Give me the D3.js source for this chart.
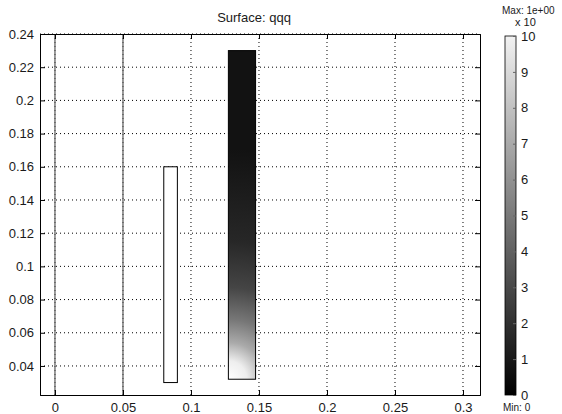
<!DOCTYPE html>
<html>
<head>
<meta charset="utf-8">
<script src="https://cdn.jsdelivr.net/npm/d3@7"></script>
<style>
  body { margin: 0; background: #fff; }
  text { font-family: "Liberation Sans", Arial, sans-serif; fill: #1a1a1a; }
</style>
</head>
<body>
<svg width="562" height="414"></svg>
<script>
// axis ticks
var xTicks = [0, 0.05, 0.1, 0.15, 0.2, 0.25, 0.3];
var yTicks = [0.04, 0.06, 0.08, 0.1, 0.12, 0.14, 0.16, 0.18, 0.2, 0.22, 0.24];
var cbTicks = [0, 1, 2, 3, 4, 5, 6, 7, 8, 9, 10];

// geometry: boundary lines and the two subdomains
var boundaries = [0, 0.05];
var domainX0 = [0.08, 0.1275];
var domainX1 = [0.09, 0.1475];
var domainY0 = [0.03, 0.032];
var domainY1 = [0.16, 0.23];

var svg = d3.select("svg");
var margin = { top: 34, right: 82, bottom: 19, left: 40 };
var width = 562 - margin.left - margin.right,
    height = 414 - margin.top - margin.bottom;

var x = d3.scaleLinear().domain([-0.011, 0.3125]).range([0, width]);
var y = d3.scaleLinear().domain([0.0225, 0.24]).range([height, 0]);

var defs = svg.append("defs");

var g = svg.append("g")
    .attr("transform", "translate(" + margin.left + "," + margin.top + ")");

// title
svg.append("text")
    .attr("x", 254).attr("y", 22)
    .attr("text-anchor", "middle")
    .style("font-size", "13px")
    .text("Surface: qqq");

// grid
g.selectAll(".vgrid").data(xTicks).enter().append("line")
    .attr("x1", function (d) { return x(d); }).attr("x2", function (d) { return x(d); })
    .attr("y1", 0).attr("y2", height)
    .attr("stroke", "#000").attr("stroke-width", 1)
    .attr("stroke-dasharray", "1,3");

g.selectAll(".hgrid").data(yTicks).enter().append("line")
    .attr("y1", function (d) { return y(d); }).attr("y2", function (d) { return y(d); })
    .attr("x1", 0).attr("x2", width)
    .attr("stroke", "#000").attr("stroke-width", 1)
    .attr("stroke-dasharray", "1,3");

// boundaries
g.selectAll(".bnd").data(boundaries).enter().append("line")
    .attr("x1", function (d) { return x(d); }).attr("x2", function (d) { return x(d); })
    .attr("y1", 0).attr("y2", height)
    .attr("stroke", "#666").attr("stroke-width", 1.3);

// gradient for the heated domain
var i = 1;
var grad = defs.append("radialGradient")
    .attr("id", "surf")
    .attr("gradientUnits", "userSpaceOnUse")
    .attr("cx", x(domainX0[i])).attr("cy", y(domainY0[i]))
    .attr("fx", x(domainX0[i])).attr("fy", y(domainY0[i]))
    .attr("r", 230);
[[0, "#ffffff"], [0.08, "#eeeeee"], [0.16, "#aaaaaa"], [0.26, "#777777"],
 [0.4, "#454545"], [0.6, "#272727"], [1, "#121212"]].forEach(function (s) {
    grad.append("stop").attr("offset", s[0]).attr("stop-color", s[1]);
});

g.selectAll(".dom").data(domainX0).enter().append("rect")
    .attr("x", function (d, k) { return x(domainX0[k]); })
    .attr("width", function (d, k) { return x(domainX1[k]) - x(domainX0[k]); })
    .attr("y", function (d, k) { return y(domainY1[k]); })
    .attr("height", function (d, k) { return y(domainY0[k]) - y(domainY1[k]); })
    .attr("fill", function (d, k) { return k === 1 ? "url(#surf)" : "#fff"; })
    .attr("stroke", "#000").attr("stroke-width", 1);

// axes
var fmt = function (d) { return String(+d.toFixed(2)); };
var xAxis = d3.axisBottom(x).tickValues(xTicks).tickSize(-5).tickPadding(8).tickFormat(fmt);
var yAxis = d3.axisLeft(y).tickValues(yTicks).tickSize(-5).tickPadding(6).tickFormat(fmt);

g.append("g").attr("transform", "translate(0," + height + ")").call(xAxis);
g.append("g").call(yAxis);
g.append("g").call(d3.axisTop(x).tickValues(xTicks).tickSize(-5).tickFormat(""));
g.append("g").attr("transform", "translate(" + width + ",0)")
    .call(d3.axisRight(y).tickValues(yTicks).tickSize(-5).tickFormat(""));

g.selectAll(".domain").attr("stroke", "#000");
g.selectAll(".tick line").attr("stroke", "#000");
g.selectAll(".tick text").style("font-size", "13px").attr("fill", "#1a1a1a")
    .style("font-family", "Liberation Sans, Arial, sans-serif");

// colorbar
var cbX = 505, cbW = 11;
var cy = d3.scaleLinear().domain([0, 10]).range([395, 36]);

var cg = defs.append("linearGradient").attr("id", "cb")
    .attr("x1", 0).attr("y1", 1).attr("x2", 0).attr("y2", 0);
cg.append("stop").attr("offset", 0).attr("stop-color", "#000");
cg.append("stop").attr("offset", 1).attr("stop-color", "#f2f2f2");

svg.append("rect")
    .attr("x", cbX).attr("y", cy(10))
    .attr("width", cbW).attr("height", cy(0) - cy(10))
    .attr("fill", "url(#cb)").attr("stroke", "#000").attr("stroke-width", 0.8);

var cbAxis = d3.axisRight(cy).tickValues(cbTicks).tickSize(-3).tickPadding(5);
var gcb = svg.append("g").attr("transform", "translate(" + (cbX + cbW) + ",0)").call(cbAxis);
gcb.select(".domain").remove();
gcb.selectAll(".tick line").attr("stroke", "#666");
gcb.selectAll(".tick text").style("font-size", "13px").attr("fill", "#1a1a1a")
    .style("font-family", "Liberation Sans, Arial, sans-serif");

svg.append("text").attr("x", 515).attr("y", 26)
    .style("font-size", "11px").attr("fill", "#333").text("x 10");
svg.append("text").attr("x", 502).attr("y", 14)
    .style("font-size", "10px").attr("fill", "#555").text("Max: 1e+00");
svg.append("text").attr("x", 503).attr("y", 411)
    .style("font-size", "10px").attr("fill", "#555").text("Min: 0");
</script>
</body>
</html>
